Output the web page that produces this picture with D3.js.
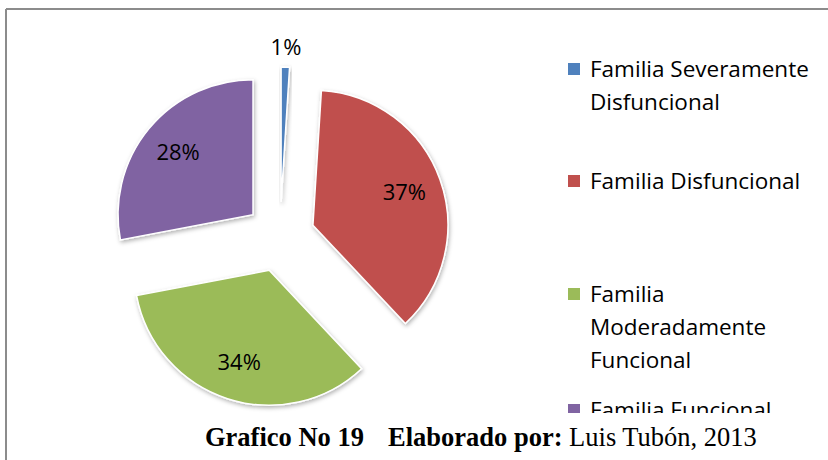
<!DOCTYPE html>
<html>
<head>
<meta charset="utf-8">
<script src="https://cdn.jsdelivr.net/npm/d3@7"></script>
<style>
  body { margin: 0; background: #fff; }
  svg { display: block; }
</style>
</head>
<body>
<div id="chart"></div>
<script>
// data
const categories = [
  'Familia Severamente Disfuncional',
  'Familia Disfuncional',
  'Familia Moderadamente Funcional',
  'Familia Funcional'
];
const values = [1, 37, 34, 28];
const colors = ['#4F81BD', '#C0504D', '#9BBB59', '#8064A2'];
// legend entries wrapped like the original
const legendLines = [
  ['Familia Severamente', 'Disfuncional'],
  ['Familia Disfuncional'],
  ['Familia', 'Moderadamente', 'Funcional'],
  ['Familia Funcional']
];

const width = 828;
const height = 460;
const cx = 280, cy = 237;
const radius = 135;
const explode = 35;

const svg = d3.select('#chart')
  .append('svg')
  .attr('width', width)
  .attr('height', height);

const defs = svg.append('defs');
defs.append('filter')
  .attr('id', 'shadow')
  .attr('x', '-20%').attr('y', '-20%')
  .attr('width', '140%').attr('height', '140%')
  .append('feDropShadow')
  .attr('dx', 1).attr('dy', 2)
  .attr('stdDeviation', 2)
  .attr('flood-color', '#000')
  .attr('flood-opacity', 0.3);

// the plot area cuts off the last legend entry
defs.append('clipPath')
  .attr('id', 'plotClip')
  .append('rect')
  .attr('x', 0).attr('y', 0)
  .attr('width', width).attr('height', 413);

// frame (only top and left edges are visible in the reference)
svg.append('line')
  .attr('x1', 6).attr('y1', 9).attr('x2', width).attr('y2', 9)
  .attr('stroke', '#8c8c8c').attr('stroke-width', 2);
svg.append('line')
  .attr('x1', 6).attr('y1', 9).attr('x2', 6).attr('y2', height)
  .attr('stroke', '#8c8c8c').attr('stroke-width', 2);

const color = d3.scaleOrdinal().domain(categories).range(colors);

const pie = d3.pie()
  .value(d => d)
  .sort(null);

const arcs = pie(values);
const total = d3.sum(values);

const arc = d3.arc()
  .innerRadius(0)
  .outerRadius(radius);

const plot = svg.append('g')
  .attr('transform', `translate(${cx}, ${cy})`);

const offset = d => {
  const mid = (d.startAngle + d.endAngle) / 2;
  return [Math.sin(mid) * explode, -Math.cos(mid) * explode];
};

const slices = plot.selectAll('.slice')
  .data(arcs)
  .enter()
  .append('g')
  .attr('class', 'slice')
  .attr('transform', d => `translate(${offset(d)})`);

slices.append('path')
  .attr('d', arc)
  .attr('fill', (d, i) => color(categories[i]))
  .attr('stroke', '#fff')
  .attr('stroke-width', 1.5)
  .attr('filter', 'url(#shadow)');

// percentage labels; tiny slices get their label outside
slices.append('text')
  .attr('transform', d => {
    const mid = (d.startAngle + d.endAngle) / 2;
    const share = d.value / total;
    const r = share < 0.05 ? radius * 1.15 : radius * 0.72;
    return `translate(${Math.sin(mid) * r}, ${-Math.cos(mid) * r})`;
  })
  .attr('text-anchor', 'middle')
  .attr('dy', '0.35em')
  .style('font-family', '"Open Sans", Lato, sans-serif')
  .style('font-size', '22px')
  .attr('fill', '#000')
  .text(d => `${Math.round(d.value / total * 100)}%`);

// legend
const legendTops = [77, 189, 302, 418];
const legend = svg.append('g')
  .attr('clip-path', 'url(#plotClip)');

const items = legend.selectAll('.legend-item')
  .data(categories)
  .enter()
  .append('g')
  .attr('class', 'legend-item')
  .attr('transform', (d, i) => `translate(568, ${legendTops[i]})`);

items.append('rect')
  .attr('x', 0)
  .attr('y', -14)
  .attr('width', 12)
  .attr('height', 12)
  .attr('fill', d => color(d));

items.append('text')
  .style('font-family', '"Open Sans", Lato, sans-serif')
  .style('font-size', '22.5px')
  .attr('fill', '#000')
  .selectAll('tspan')
  .data((d, i) => legendLines[i])
  .enter()
  .append('tspan')
  .attr('x', 22)
  .attr('y', (d, j) => j * 33)
  .text(d => d);

// caption under the chart
const caption = svg.append('text')
  .attr('y', 446)
  .style('font-family', '"Liberation Serif", "Times New Roman", serif')
  .style('font-size', '26.5px')
  .attr('fill', '#000');
caption.append('tspan').attr('x', 205).style('font-weight', 'bold').text('Grafico No 19');
caption.append('tspan').attr('x', 388).style('font-weight', 'bold').text('Elaborado por:');
caption.append('tspan').text(' Luis Tubón, 2013');
</script>
</body>
</html>
